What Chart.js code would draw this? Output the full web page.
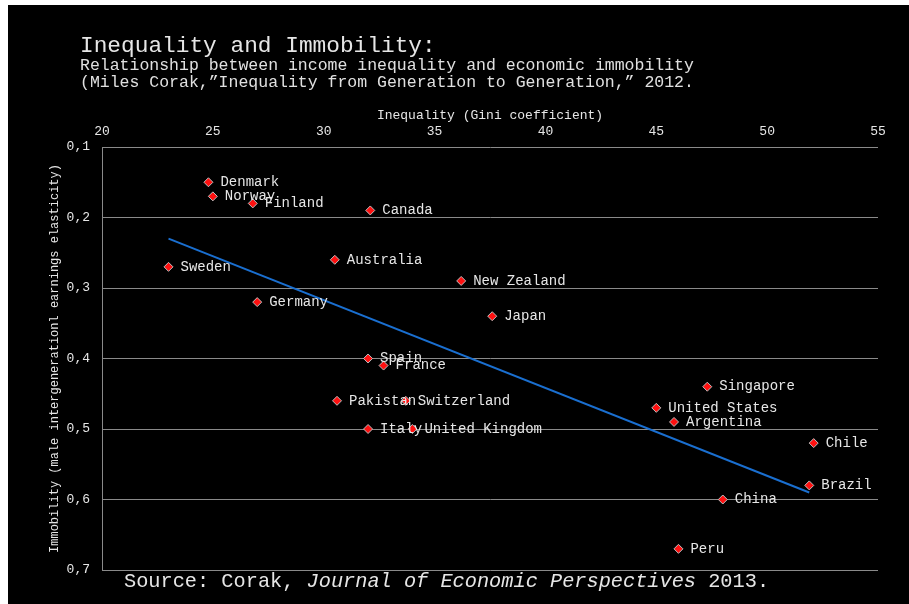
<!DOCTYPE html>
<html>
<head>
<meta charset="utf-8">
<script src="https://cdn.jsdelivr.net/npm/chart.js@4/dist/chart.umd.min.js"></script>
<style>
  html, body { margin: 0; padding: 0; background: #ffffff; width: 909px; height: 604px; overflow: hidden; }
  #wrap { position: absolute; left: 8px; top: 5px; width: 901px; height: 599px; background: #000000; }
  canvas { display: block; }
</style>
</head>
<body>
<div id="wrap"><canvas id="c" width="901" height="599"></canvas></div>
<script>
const countries = ["Denmark","Norway","Finland","Canada","Sweden","Australia","Germany","New Zealand","Japan","Spain","France","Pakistan","Switzerland","Italy","United Kingdom","Singapore","United States","Argentina","Chile","Brazil","China","Peru"];
const gini =       [24.8, 25.0, 26.8, 32.1, 23.0, 30.5, 27.0, 36.2, 37.6, 32.0, 32.7, 30.6, 33.7, 32.0, 34.0, 47.3, 45.0, 45.8, 52.1, 51.9, 48.0, 46.0];
const immobility = [0.15, 0.17, 0.18, 0.19, 0.27, 0.26, 0.32, 0.29, 0.34, 0.40, 0.41, 0.46, 0.46, 0.50, 0.50, 0.44, 0.47, 0.49, 0.52, 0.58, 0.60, 0.67];
const trendX = [23.0, 51.9];
const trendY = [0.23, 0.59];
const xTicks = [20, 25, 30, 35, 40, 45, 50, 55];
const yTickLabels = ["0,1","0,2","0,3","0,4","0,5","0,6","0,7"];

const MONO = '"Liberation Mono", "DejaVu Sans Mono", monospace';
const TXT = '#e6e6e6';

const pointData = countries.map((c, i) => ({x: gini[i], y: immobility[i]}));
const trendData = trendX.map((x, i) => ({x: x, y: trendY[i]}));

const decor = {
  id: 'decor',
  afterDatasetsDraw(chart) {
    const ctx = chart.ctx;
    const meta = chart.getDatasetMeta(1);
    ctx.save();
    ctx.fillStyle = TXT;
    ctx.font = '14px ' + MONO;
    ctx.textBaseline = 'middle';
    ctx.textAlign = 'left';
    meta.data.forEach((el, i) => {
      ctx.fillText(countries[i], el.x + 12, el.y);
    });
    ctx.restore();
  },
  afterDraw(chart) {
    const ctx = chart.ctx;
    ctx.save();
    ctx.fillStyle = TXT;
    ctx.textBaseline = 'middle';
    ctx.textAlign = 'left';
    ctx.font = '22.8px ' + MONO;
    ctx.fillText('Inequality and Immobility:', 72, 41);
    ctx.fillStyle = '#e0e0e0';
    ctx.font = '16.5px ' + MONO;
    ctx.fillText('Relationship between income inequality and economic immobility', 72, 61);
    ctx.fillText('(Miles Corak,\u201DInequality from Generation to Generation,\u201D 2012.', 72, 78);
    // source
    ctx.fillStyle = TXT;
    ctx.font = '20.3px ' + MONO;
    let x = 116, y = 577;
    const p1 = 'Source: Corak, ';
    ctx.fillText(p1, x, y); x += ctx.measureText(p1).width;
    ctx.font = 'italic 20.3px ' + MONO;
    const p2 = 'Journal of Economic Perspectives';
    ctx.fillText(p2, x, y); x += ctx.measureText(p2).width;
    ctx.font = '20.3px ' + MONO;
    ctx.fillText(' 2013.', x, y);
    ctx.restore();
  }
};

new Chart(document.getElementById('c'), {
  type: 'scatter',
  data: {
    datasets: [
      {
        type: 'line',
        data: trendData,
        borderColor: '#1a6fd0',
        borderWidth: 2,
        pointRadius: 0,
        fill: false
      },
      {
        data: pointData,
        pointStyle: 'rectRot',
        pointRadius: 4.5,
        backgroundColor: '#ff1010',
        borderColor: '#bdbdbd',
        borderWidth: 1
      }
    ]
  },
  options: {
    responsive: false,
    animation: false,
    devicePixelRatio: 1,
    layout: { padding: { left: 0, top: 0, right: 31, bottom: 34 } },
    plugins: { legend: { display: false }, tooltip: { enabled: false }, title: { display: false } },
    scales: {
      x: {
        type: 'linear',
        position: 'top',
        min: 20, max: 55,
        afterFit: s => { s.height = 142; },
        afterBuildTicks: s => { s.ticks = xTicks.map(v => ({value: v})); },
        grid: { display: false, drawTicks: false },
        border: { display: false },
        ticks: { color: TXT, font: { family: MONO, size: 13 }, padding: 8, maxRotation: 0 },
        title: { display: true, text: 'Inequality (Gini coefficient)', color: TXT, font: { family: MONO, size: 13 }, padding: { top: 103, bottom: 0 } }
      },
      y: {
        type: 'linear',
        position: 'left',
        reverse: true,
        min: 0.1, max: 0.7,
        afterFit: s => { s.width = 94; },
        afterBuildTicks: s => { s.ticks = yTickLabels.map((t, i) => ({value: 0.1 + i * 0.1})); },
        grid: { color: '#8a8a8a', lineWidth: 1, drawTicks: false },
        border: { display: true, color: '#8a8a8a', width: 1 },
        ticks: { color: TXT, font: { family: MONO, size: 13 }, padding: 12, callback: (v, i) => yTickLabels[i] },
        title: { display: true, text: 'Immobility (male intergenerationl earnings elasticity)', color: TXT, font: { family: MONO, size: 12 }, padding: { top: 40, bottom: 0 } }
      }
    }
  },
  plugins: [decor]
});
</script>
</body>
</html>
